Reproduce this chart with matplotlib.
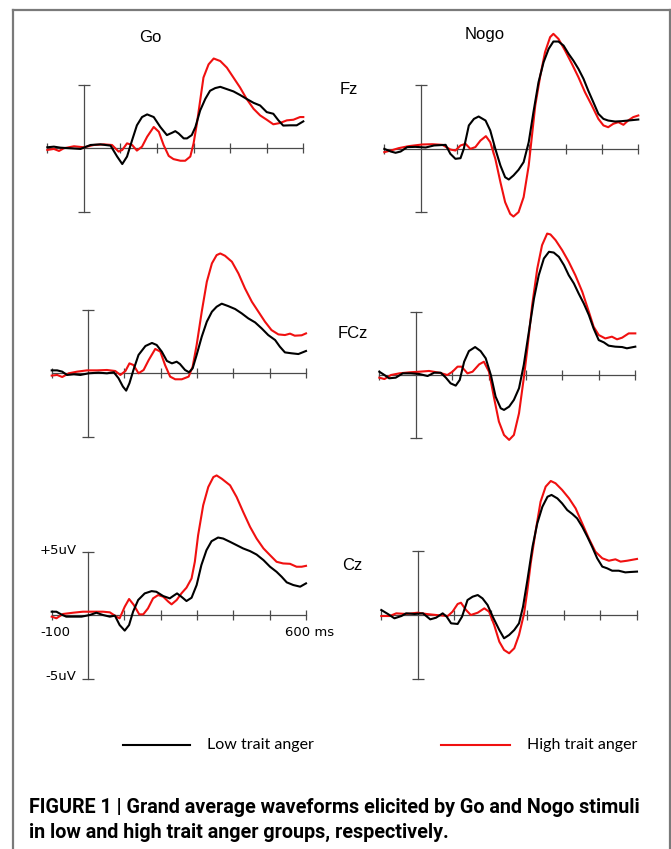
import numpy as np
import matplotlib
matplotlib.use("Agg")
import matplotlib.pyplot as plt
from matplotlib.lines import Line2D


# -----------------------------
# Data (ms, uV)
# -----------------------------
go_fz_low_t = [-100, -82, -64, -36, -9, 18, 45, 73, 91, 105, 118, 132, 145, 159, 173, 191, 209, 227,
               241, 250, 259, 273, 282, 295, 305, 318, 332, 345, 359, 373, 391, 409, 427, 445, 464,
               482, 500, 518, 532, 545, 564, 582, 600]
go_fz_low_v = [0.08, 0.13, 0.05, 0.0, -0.05, 0.26, 0.31, 0.21, -0.65, -1.24, -0.65, 0.65, 1.81, 2.46,
               2.67, 2.46, 1.68, 1.04, 1.22, 1.35, 1.17, 0.78, 0.78, 1.04, 1.68, 2.98, 3.89, 4.53,
               4.74, 4.84, 4.66, 4.48, 4.20, 3.89, 3.58, 3.37, 2.85, 2.72, 2.20, 1.79, 1.81, 1.81, 2.12]
go_fz_high_t = [-100, -82, -68, -55, -27, 0, 27, 55, 77, 95, 105, 118, 132, 145, 159, 173, 191, 205,
                218, 232, 245, 264, 277, 291, 300, 309, 318, 327, 341, 355, 373, 391, 409, 427, 445,
                464, 482, 500, 518, 536, 555, 573, 591, 600]
go_fz_high_v = [-0.13, -0.05, -0.21, 0.0, 0.16, 0.08, 0.26, 0.31, 0.26, -0.26, -0.13, 0.39, 0.26,
                -0.18, 0.13, 0.91, 1.68, 1.30, 0.26, -0.60, -0.85, -0.98, -0.98, -0.65, 0.39, 1.94,
                3.76, 5.57, 6.61, 7.07, 6.87, 6.35, 5.57, 4.79, 3.89, 3.11, 2.59, 2.25, 1.89, 1.99,
                2.20, 2.25, 2.46, 2.46]

nogo_fz_low_t = [-100, -82, -69, -55, -37, -14, 14, 37, 69, 82, 96, 110, 119, 133, 147, 160, 179, 192,
                 206, 220, 233, 243, 256, 270, 284, 298, 311, 325, 339, 353, 366, 380, 394, 408, 421,
                 435, 449, 462, 476, 490, 504, 517, 536, 554, 572, 600]
nogo_fz_low_v = [-0.03, -0.24, -0.34, -0.24, 0.11, 0.13, 0.08, 0.24, 0.29, -0.42, -0.82, -0.77, -0.03,
                 1.83, 2.35, 2.54, 2.22, 1.43, -0.03, -1.35, -2.28, -2.46, -2.14, -1.69, -1.08, 0.50,
                 2.88, 5.26, 6.85, 7.91, 8.49, 8.49, 8.17, 7.51, 6.98, 6.32, 5.53, 4.60, 3.68, 2.75,
                 2.35, 2.22, 2.14, 2.17, 2.22, 2.30]
nogo_fz_high_t = [-100, -82, -60, -32, 5, 32, 60, 82, 96, 110, 124, 137, 151, 165, 180, 192, 206, 220,
                  233, 247, 256, 270, 284, 298, 307, 316, 330, 343, 357, 366, 380, 398, 417, 435, 453,
                  472, 490, 504, 517, 531, 545, 559, 572, 586, 600]
nogo_fz_high_v = [-0.29, -0.16, 0.03, 0.19, 0.32, 0.34, 0.29, -0.08, -0.16, 0.24, 0.37, -0.03, 0.11,
                  0.63, 0.98, 0.50, -0.82, -2.67, -4.26, -5.19, -5.40, -5.05, -3.86, -1.35, 1.03,
                  3.41, 5.79, 7.65, 8.84, 9.10, 8.70, 7.78, 6.72, 5.66, 4.47, 3.41, 2.35, 1.83, 1.69,
                  1.96, 2.09, 1.88, 2.22, 2.49, 2.62]

go_fcz_low_t = [-100, -85, -71, -58, -39, -21, 2, 29, 52, 71, 84, 96, 105, 114, 125, 139, 158, 176,
                189, 203, 217, 231, 244, 253, 267, 278, 288, 299, 313, 327, 341, 354, 368, 386, 405,
                423, 441, 460, 478, 496, 515, 528, 542, 560, 579, 600]
go_fcz_low_v = [0.23, 0.23, 0.13, -0.13, -0.08, -0.13, 0.0, 0.05, 0.0, 0.08, -0.39, -1.04, -1.36,
                -0.78, 0.26, 1.44, 2.14, 2.38, 2.22, 1.70, 0.97, 0.78, 0.91, 0.73, 0.26, 0.08, 0.39,
                1.44, 2.87, 4.05, 4.83, 5.22, 5.46, 5.27, 5.04, 4.70, 4.31, 3.99, 3.52, 3.00, 2.61,
                2.09, 1.64, 1.57, 1.51, 1.75]
go_fcz_high_t = [-100, -85, -71, -53, -30, -3, 25, 52, 75, 89, 103, 114, 125, 139, 153, 167, 185, 199,
                 212, 226, 240, 258, 277, 288, 299, 313, 327, 341, 354, 364, 377, 396, 414, 432, 451,
                 469, 487, 505, 524, 542, 556, 569, 588, 600]
go_fcz_high_v = [-0.18, -0.13, -0.29, 0.0, 0.13, 0.23, 0.23, 0.26, 0.18, -0.13, 0.18, 0.78, 0.65,
                 0.0, 0.26, 1.04, 1.91, 1.70, 0.65, -0.26, -0.47, -0.47, -0.26, 0.52, 2.22, 4.83,
                 7.18, 8.62, 9.27, 9.40, 9.22, 8.75, 7.83, 6.66, 5.61, 4.83, 4.05, 3.39, 3.05, 3.00,
                 3.11, 2.95, 2.98, 3.13]

nogo_fcz_low_t = [-100, -86, -73, -55, -36, -14, 9, 32, 50, 68, 82, 95, 109, 120, 132, 145, 162, 177,
                  191, 205, 218, 232, 241, 255, 268, 282, 295, 309, 323, 336, 350, 364, 377, 391, 405,
                  418, 432, 445, 459, 473, 486, 500, 514, 527, 545, 564, 577, 600]
nogo_fcz_low_v = [0.26, 0.0, -0.26, -0.21, 0.13, 0.13, 0.08, -0.08, 0.18, 0.18, -0.21, -0.66, -0.84,
                  -0.39, 1.05, 1.89, 2.21, 1.89, 1.32, 0.0, -1.71, -2.63, -2.76, -2.50, -1.97, -1.05,
                  0.79, 3.42, 6.05, 7.89, 9.21, 9.74, 9.68, 9.34, 8.68, 7.89, 7.24, 6.45, 5.66, 4.74,
                  3.68, 2.76, 2.58, 2.32, 2.24, 2.21, 2.11, 2.24]
nogo_fcz_high_t = [-100, -86, -68, -45, -18, 9, 36, 64, 86, 100, 114, 125, 141, 155, 173, 186, 200,
                   214, 227, 241, 255, 268, 282, 295, 305, 318, 332, 345, 359, 368, 382, 400, 418, 436,
                   455, 473, 486, 500, 518, 536, 550, 564, 582, 600]
nogo_fcz_high_v = [-0.21, -0.32, 0.0, 0.13, 0.21, 0.26, 0.32, 0.18, 0.0, 0.26, 0.66, 0.66, 0.13, 0.26,
                   0.84, 1.05, 0.26, -1.84, -3.68, -4.74, -5.13, -4.74, -3.03, -0.26, 2.11, 5.53,
                   8.42, 10.26, 11.18, 11.11, 10.66, 9.87, 8.95, 7.89, 6.58, 5.00, 3.82, 3.16, 2.89,
                   3.03, 2.82, 2.95, 3.29, 3.29]

go_cz_low_t = [-100, -87, -74, -60, -41, -18, 5, 23, 41, 60, 74, 87, 101, 113, 124, 138, 156, 175,
               188, 207, 225, 234, 245, 257, 271, 285, 299, 312, 326, 340, 358, 372, 391, 409, 427,
               446, 464, 483, 501, 519, 533, 547, 565, 584, 600]
go_cz_low_v = [0.26, 0.26, 0.05, -0.13, -0.13, -0.13, 0.0, 0.18, 0.0, -0.13, -0.05, -0.79, -1.23,
               -0.79, 0.26, 1.18, 1.70, 1.88, 1.83, 1.49, 1.31, 1.49, 1.70, 1.44, 1.10, 1.36, 2.36,
               3.93, 5.10, 5.81, 6.10, 6.02, 5.76, 5.50, 5.24, 5.03, 4.76, 4.32, 3.80, 3.40, 3.01,
               2.57, 2.36, 2.23, 2.49]
go_cz_high_t = [-100, -87, -69, -41, -14, 14, 41, 60, 78, 87, 101, 113, 126, 141, 152, 165, 179, 193,
                207, 221, 230, 244, 257, 271, 285, 294, 303, 317, 331, 345, 354, 368, 391, 409, 427,
                446, 464, 483, 501, 519, 537, 556, 574, 588, 600]
go_cz_high_v = [-0.13, -0.26, 0.08, 0.18, 0.26, 0.26, 0.26, 0.21, -0.13, -0.26, 0.65, 1.26, 0.79,
                0.05, 0.05, 0.52, 1.31, 1.57, 1.44, 1.05, 0.84, 1.18, 1.70, 2.15, 2.88, 4.19, 6.28,
                8.64, 10.08, 10.86, 10.99, 10.73, 10.21, 9.29, 8.12, 6.94, 6.02, 5.24, 4.71, 4.19,
                4.06, 4.03, 3.80, 3.80, 3.87]

nogo_cz_low_t = [-100, -82, -64, -45, -32, -9, 14, 34, 50, 68, 79, 91, 109, 121, 136, 150, 164, 177,
                 191, 205, 223, 236, 250, 264, 277, 288, 300, 314, 327, 341, 355, 366, 382, 395, 409,
                 423, 436, 450, 464, 477, 491, 505, 518, 532, 550, 568, 582, 600]
nogo_cz_low_v = [0.39, 0.08, -0.26, -0.08, 0.13, 0.08, 0.13, -0.34, -0.21, 0.13, -0.13, -0.65, -0.70,
                 -0.13, 1.17, 1.43, 1.56, 1.30, 0.78, -0.13, -1.17, -1.82, -1.56, -1.17, -0.65, 0.65,
                 2.73, 5.34, 7.16, 8.46, 9.24, 9.38, 9.11, 8.72, 8.20, 7.89, 7.55, 6.90, 6.12, 5.34,
                 4.43, 3.78, 3.65, 3.46, 3.46, 3.33, 3.36, 3.39]
nogo_cz_high_t = [-100, -77, -59, -32, 0, 23, 50, 82, 95, 109, 118, 132, 145, 164, 182, 195, 209, 223,
                  236, 250, 264, 277, 291, 300, 309, 323, 336, 350, 364, 377, 395, 414, 432, 450, 468,
                  486, 505, 523, 541, 555, 573, 600]
nogo_cz_high_v = [-0.08, -0.08, 0.13, 0.08, 0.18, 0.08, 0.0, -0.08, 0.26, 0.86, 0.96, 0.39, 0.0,
                  0.18, 0.52, 0.26, -0.78, -2.08, -2.73, -2.99, -2.60, -1.56, 0.13, 1.95, 4.04, 6.64,
                  8.85, 10.03, 10.47, 10.29, 9.77, 9.11, 8.33, 7.16, 5.99, 4.95, 4.43, 4.24, 4.35,
                  4.17, 4.24, 4.38]

x_ticks = [-100, 100, 200, 300, 400, 500, 600]
conditions = ["Go", "Nogo"]
electrodes = ["Fz", "FCz", "Cz"]
group_labels = ["Low trait anger", "High trait anger"]
caption_lines = ["FIGURE 1 | Grand average waveforms elicited by Go and Nogo stimuli",
                 "in low and high trait anger groups, respectively."]

curves = {
    ("Go", "Fz"): (go_fz_low_t, go_fz_low_v, go_fz_high_t, go_fz_high_v),
    ("Nogo", "Fz"): (nogo_fz_low_t, nogo_fz_low_v, nogo_fz_high_t, nogo_fz_high_v),
    ("Go", "FCz"): (go_fcz_low_t, go_fcz_low_v, go_fcz_high_t, go_fcz_high_v),
    ("Nogo", "FCz"): (nogo_fcz_low_t, nogo_fcz_low_v, nogo_fcz_high_t, nogo_fcz_high_v),
    ("Go", "Cz"): (go_cz_low_t, go_cz_low_v, go_cz_high_t, go_cz_high_v),
    ("Nogo", "Cz"): (nogo_cz_low_t, nogo_cz_low_v, nogo_cz_high_t, nogo_cz_high_v),
}

# -----------------------------
# Layout (pixels of the 671x849 figure)
# -----------------------------
W, H = 671, 849
# left edge (-100 ms), right edge (600 ms), zero line, px per uV
panel_px = {
    ("Go", "Fz"): (47.3, 303.3, 148.3, 12.7),
    ("Nogo", "Fz"): (384.3, 638.3, 148.5, 12.6),
    ("Go", "FCz"): (51.7, 306.0, 373.3, 12.75),
    ("Nogo", "FCz"): (379.3, 635.3, 375.0, 12.65),
    ("Go", "Cz"): (51.7, 306.0, 615.0, 12.7),
    ("Nogo", "Cz"): (381.3, 637.0, 615.0, 12.8),
}
Y_LO, Y_HI = -7.0, 12.5

AXIS_COLOR = "#4a4a4a"
RED = "#f01010"
BLACK = "#000000"


def fx(px):
    return px / W


def fy(py):
    return 1 - py / H


fig = plt.figure(figsize=(W / 100, H / 100), dpi=100)

# grey frame around the figure
frame = dict(color="#7a7a7a", lw=1.6, transform=fig.transFigure, clip_on=False)
fig.add_artist(Line2D([fx(12.7), fx(669.5)], [fy(10), fy(10)], **frame))
fig.add_artist(Line2D([fx(12.7), fx(12.7)], [fy(10), fy(849)], **frame))
fig.add_artist(Line2D([fx(669.5), fx(669.5)], [fy(10), fy(849)], **frame))

for (cond, elec), (x0, x1, zero, ppu) in panel_px.items():
    bottom = zero - Y_LO * ppu
    top = zero - Y_HI * ppu
    ax = fig.add_axes([fx(x0), fy(bottom), (x1 - x0) / W, (bottom - top) / H])
    ax.set_xlim(-100, 600)
    ax.set_ylim(Y_LO, Y_HI)
    ax.axis("off")

    # hand-drawn style axes
    ax.plot([-100, 600], [0, 0], color=AXIS_COLOR, lw=0.9, clip_on=False)
    ax.plot(x_ticks, [0] * len(x_ticks), ls="", marker="|", ms=7, mew=0.9,
            color=AXIS_COLOR, clip_on=False)
    ax.plot([0, 0], [-5, 5], color=AXIS_COLOR, lw=0.9, clip_on=False)
    ax.plot([0, 0], [-5, 5], ls="", marker="_", ms=8, mew=0.9,
            color=AXIS_COLOR, clip_on=False)

    low_t, low_v, high_t, high_v = curves[(cond, elec)]
    ax.plot(high_t, high_v, color=RED, lw=1.5, clip_on=False, solid_joinstyle="round")
    ax.plot(low_t, low_v, color=BLACK, lw=1.5, clip_on=False, solid_joinstyle="round")

# column / row labels
label_font = dict(family=["Liberation Sans", "DejaVu Sans"], fontsize=12, ha="center", va="center")
fig.text(fx(150), fy(38), conditions[0], **label_font)
fig.text(fx(485), fy(35), conditions[1], **label_font)
for elec, (xp, yp) in zip(electrodes, [(349, 89), (353, 333), (352, 566)]):
    fig.text(fx(xp), fy(yp), elec, **label_font)

# scale labels on the Go / Cz panel
tick_font = dict(family="DejaVu Sans", fontsize=9.5, va="center")
fig.text(fx(77), fy(550), "+5uV", ha="right", **tick_font)
fig.text(fx(76), fy(677), "-5uV", ha="right", **tick_font)
fig.text(fx(40), fy(633), "-100", ha="left", **tick_font)
fig.text(fx(285), fy(633), "600 ms", ha="left", **tick_font)

# legend
leg_font = dict(family=["Lato", "DejaVu Sans"], fontsize=11.5, va="center", ha="left")
fig.add_artist(Line2D([fx(123), fx(190)], [fy(745), fy(745)], color=BLACK, lw=1.5,
                      transform=fig.transFigure))
fig.text(fx(207), fy(745), group_labels[0], **leg_font)
fig.add_artist(Line2D([fx(441), fx(510)], [fy(745), fy(745)], color=RED, lw=1.5,
                      transform=fig.transFigure))
fig.text(fx(527), fy(745), group_labels[1], **leg_font)

# caption
cap_font = dict(family=["Liberation Sans Narrow", "Roboto", "DejaVu Sans"], fontsize=14.2,
                fontweight="bold", ha="left", va="baseline")
fig.text(fx(29), fy(813), caption_lines[0], **cap_font)
fig.text(fx(29), fy(838), caption_lines[1], **cap_font)

fig.savefig("out.png", dpi=100)
